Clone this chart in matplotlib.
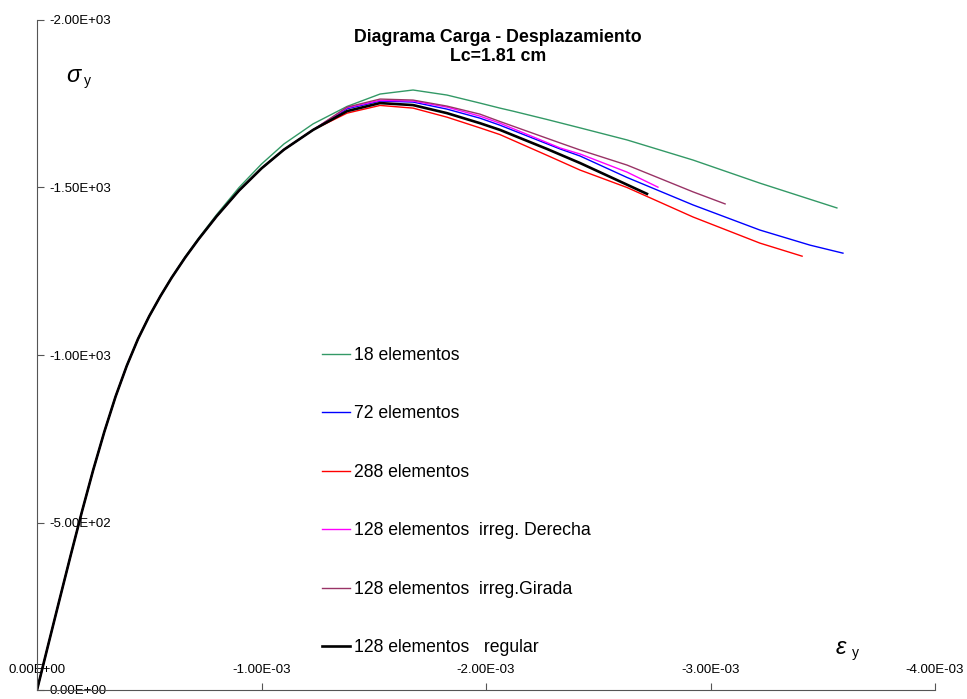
import numpy as np
import matplotlib.pyplot as plt
from matplotlib.ticker import FuncFormatter

plt.rcParams['font.family'] = ['Liberation Sans', 'DejaVu Sans']

#############################################################################
# Data (strain in units of 1e-3, stress magnitude)

# common loading branch (all meshes practically coincide here)
rise_strain = [0, 0.05, 0.1, 0.15, 0.2, 0.25, 0.3, 0.35, 0.4, 0.45, 0.5, 0.55,
               0.6, 0.66, 0.72, 0.8, 0.9, 1.0, 1.1, 1.23]
rise_stress = [0, 135, 269, 402, 532, 656, 771, 876, 968, 1048, 1116, 1176,
               1231, 1291, 1346, 1414, 1491, 1557, 1613, 1672]

strain_18 = [0, 0.05, 0.1, 0.15, 0.2, 0.25, 0.3, 0.35, 0.4, 0.45, 0.5, 0.55,
             0.6, 0.66, 0.72, 0.8, 0.9, 1.0, 1.1, 1.23,
             1.381, 1.528, 1.675, 1.826, 1.973, 2.062, 2.120, 2.272, 2.419, 2.628,
             2.922, 3.220, 3.563]
stress_18 = [0, 135, 269, 402, 532, 656, 771, 876, 968, 1048, 1116, 1176,
             1232, 1293, 1349, 1419, 1500, 1570, 1630, 1690,
             1742, 1779, 1791, 1776, 1752, 1737, 1728, 1703, 1678, 1642,
             1582, 1513, 1439]

tail_strain_72 = [1.381, 1.528, 1.675, 1.826, 1.973, 2.062, 2.330, 2.419, 2.628,
                  2.922, 3.220, 3.443, 3.590]
tail_stress_72 = [1735, 1758, 1755, 1734, 1707, 1686, 1615, 1594, 1530,
                  1448, 1373, 1328, 1304]

tail_strain_288 = [1.381, 1.528, 1.675, 1.826, 1.973, 2.062, 2.272, 2.419, 2.628,
                   2.922, 3.220, 3.408]
tail_stress_288 = [1722, 1745, 1737, 1710, 1678, 1658, 1596, 1552, 1500,
                   1412, 1334, 1295]

tail_strain_der = [1.381, 1.528, 1.675, 1.826, 1.973, 2.062, 2.330, 2.419, 2.628, 2.766]
tail_stress_der = [1738, 1760, 1758, 1740, 1713, 1692, 1618, 1600, 1546, 1501]

tail_strain_gir = [1.381, 1.528, 1.675, 1.826, 1.973, 2.062, 2.330, 2.419, 2.628,
                   2.922, 3.065]
tail_stress_gir = [1740, 1764, 1761, 1743, 1719, 1697, 1633, 1612, 1567, 1487, 1451]

tail_strain_reg = [1.381, 1.528, 1.675, 1.826, 1.973, 2.062, 2.272, 2.419, 2.717]
tail_stress_reg = [1728, 1752, 1746, 1722, 1692, 1672, 1615, 1573, 1481]

labels = ['18 elementos', '72 elementos', '288 elementos',
          '128 elementos  irreg. Derecha', '128 elementos  irreg.Girada',
          '128 elementos   regular']
colors = ['#339966', '#0000FF', '#FF0000', '#FF00FF', '#993366', '#000000']
widths = [1.0, 1.0, 1.0, 1.0, 1.0, 1.9]

series = [
    (strain_18, stress_18),
    (rise_strain + tail_strain_72, rise_stress + tail_stress_72),
    (rise_strain + tail_strain_288, rise_stress + tail_stress_288),
    (rise_strain + tail_strain_der, rise_stress + tail_stress_der),
    (rise_strain + tail_strain_gir, rise_stress + tail_stress_gir),
    (rise_strain + tail_strain_reg, rise_stress + tail_stress_reg),
]

x_ticks = [0, -1e-3, -2e-3, -3e-3, -4e-3]
y_ticks = [0, -500, -1000, -1500, -2000]

#############################################################################
# Figure

fig = plt.figure(figsize=(9.67, 6.99), dpi=100)
ax = fig.add_axes([37 / 967, 1 - 690 / 699, 898 / 967, 670 / 699])

for (eps, sig), lab, col, lw in zip(series, labels, colors, widths):
    ax.plot(-np.array(eps) * 1e-3, -np.array(sig), color=col, lw=lw, label=lab,
            solid_joinstyle='round')

ax.set_xlim(0, -4e-3)
ax.set_ylim(0, -2000)
ax.set_xticks(x_ticks)
ax.set_yticks(y_ticks)
fmt = FuncFormatter(lambda v, p: f"{v:.2E}")
ax.xaxis.set_major_formatter(fmt)
ax.yaxis.set_major_formatter(fmt)

for s in ['top', 'right']:
    ax.spines[s].set_visible(False)
ax.spines['left'].set_color('#555555')
ax.spines['bottom'].set_color('#555555')

ax.tick_params(axis='both', direction='in', length=5, color='#555555', labelsize=9.5)
ax.tick_params(axis='x', pad=-19)
ax.tick_params(axis='y', pad=-9)
for t in ax.get_yticklabels():
    t.set_horizontalalignment('left')

# axis symbols
ax.text((66 - 37) / 898, 1 - 55 / 670, 'σ', transform=ax.transAxes, fontsize=17,
        style='italic', va='center', ha='left')
ax.text((84 - 37) / 898, 1 - 61 / 670, 'y', transform=ax.transAxes, fontsize=10,
        va='center', ha='left')
ax.text((836 - 37) / 898, 1 - (648 - 20) / 670, 'ε', transform=ax.transAxes,
        fontsize=17, style='italic', va='center', ha='left')
ax.text((852 - 37) / 898, 1 - (653 - 20) / 670, 'y', transform=ax.transAxes,
        fontsize=10, va='center', ha='left')

fig.text(498 / 967, 1 - 47 / 699, 'Diagrama Carga - Desplazamiento\nLc=1.81 cm',
         ha='center', va='center', fontsize=12.8, fontweight='bold', linespacing=1.2)

ax.legend(loc='upper left', bbox_to_anchor=(322 / 967, 1 - 347 / 699),
          bbox_transform=fig.transFigure, frameon=False, fontsize=12.7,
          borderpad=0, borderaxespad=0, handlelength=1.6, handletextpad=0.2,
          labelspacing=2.35)

fig.savefig('out.png', dpi=100)
